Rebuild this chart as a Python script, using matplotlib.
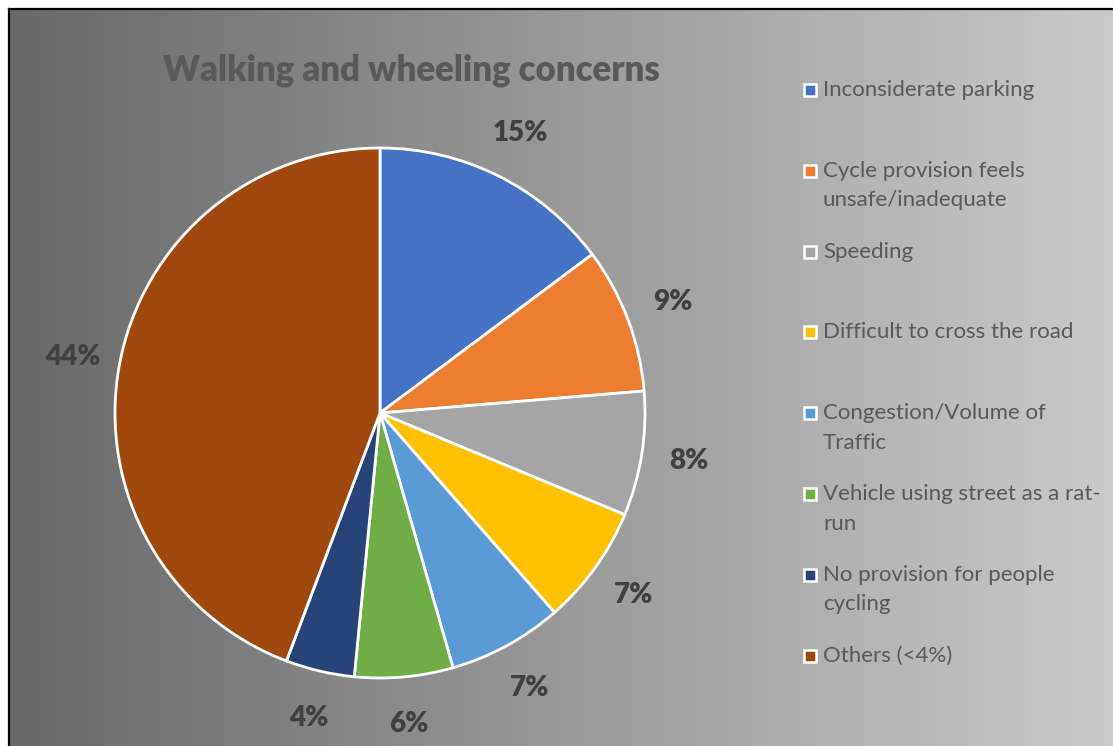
import numpy as np
import matplotlib
matplotlib.use("Agg")
import matplotlib.pyplot as plt
from matplotlib.patches import Rectangle
from matplotlib.lines import Line2D

# ---- data ----
categories = [
    "Inconsiderate parking",
    "Cycle provision feels\nunsafe/inadequate",
    "Speeding",
    "Difficult to cross the road",
    "Congestion/Volume of\nTraffic",
    "Vehicle using street as a rat-\nrun",
    "No provision for people\ncycling",
    "Others (<4%)",
]
shares = [14.8, 8.9, 7.6, 7.3, 7.0, 6.0, 4.2, 44.3]
colors = ["#4472C4", "#ED7D31", "#A5A5A5", "#FFC000",
          "#5B9BD5", "#70AD47", "#264478", "#9E480E"]
title = "Walking and wheeling concerns"

W, H = 1113, 746
fig = plt.figure(figsize=(W / 100, H / 100), dpi=100)
fig.patch.set_facecolor("white")

# background gradient
bg = fig.add_axes([8 / W, 0, 1 - 8 / W, 1 - 8 / H])
grad = np.linspace(0x68, 0xCA, 512) / 255.0
img = np.dstack([np.tile(grad, (2, 1))] * 3)
bg.imshow(img, aspect="auto", extent=[0, 1, 0, 1])
bg.set_xlim(0, 1)
bg.set_ylim(0, 1)
bg.axis("off")
fig.add_artist(Line2D([8.5 / W, 8.5 / W], [0, 1 - 8.5 / H], color="black", lw=1.6))
fig.add_artist(Line2D([8.5 / W, 1], [1 - 8.5 / H, 1 - 8.5 / H], color="black", lw=1.6))

FONT = "Lato"

# pie
cx, cy, r = 380, 413, 265
ax = fig.add_axes([(cx - r) / W, (H - cy - r) / H, 2 * r / W, 2 * r / H])
ax.set_facecolor("none")
wedges, texts, autotexts = ax.pie(
    shares, colors=colors, startangle=90, counterclock=False,
    autopct=lambda p: f"{p:.0f}%", pctdistance=1.18, radius=1,
    wedgeprops=dict(edgecolor="white", linewidth=2.0),
    textprops=dict(fontsize=20, fontweight="heavy", color="#404040", family=FONT),
)
ax.set_xlim(-1, 1)
ax.set_ylim(-1, 1)
ax.set_aspect("auto")
ax.axis("off")

# title
fig.text(411 / W, 1 - 70 / H, title, ha="center", va="center",
         fontsize=25, fontweight="heavy", color="#595959", family=FONT)

# legend (manual)
y0, step = 90, 80.8
for i, (lab, col) in enumerate(zip(categories, colors)):
    y = y0 + i * step
    sq = 12
    fig.add_artist(Rectangle(((810 - sq / 2) / W, (H - y - sq / 2) / H), sq / W, sq / H,
                             facecolor=col, edgecolor="white", linewidth=1.8,
                             transform=fig.transFigure))
    fig.text(823 / W, 1 - (y - 10) / H, lab, ha="left", va="top",
             fontsize=16, color="#595959", family=FONT, linespacing=1.6)

fig.savefig("out.png", dpi=100)
